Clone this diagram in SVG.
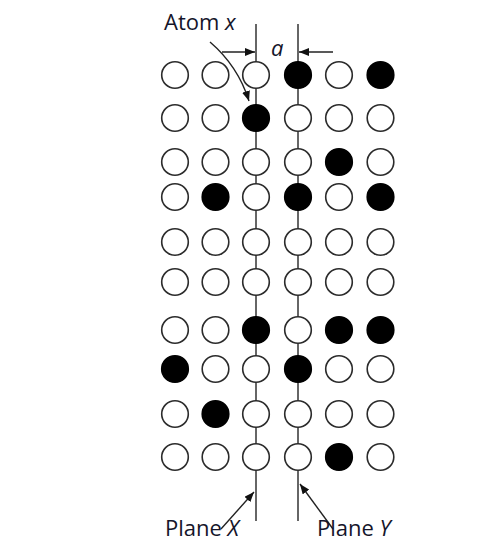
<svg xmlns="http://www.w3.org/2000/svg" width="481" height="543" viewBox="0 0 481 543">
<style>
.o{fill:#fff;stroke:#2b2b2b;stroke-width:1.6}
.b{fill:#000;stroke:#000;stroke-width:1.6}
.ln{stroke:#333;stroke-width:1.5;fill:none}
.ar{stroke:#222;stroke-width:1.4;fill:none;marker-end:url(#ah)}
.t{font-family:"Open Sans","Liberation Sans",sans-serif;font-size:22px;fill:#15152a}
</style>
<defs>
<marker id="ah" viewBox="0 0 10 8" refX="10" refY="4" markerWidth="10" markerHeight="8" markerUnits="userSpaceOnUse" orient="auto">
<path d="M0,0 L10,4 L0,8 z" fill="#111"/>
</marker>
</defs>
<rect width="481" height="543" fill="#fff"/>
<g id="connectors">
<line class="ln" x1="256" y1="24" x2="256" y2="521"/>
<line class="ln" x1="298" y1="24" x2="298" y2="521"/>
<line class="ar" x1="222" y1="52" x2="255" y2="52"/>
<line class="ar" x1="333" y1="52" x2="299" y2="52"/>
<path class="ar" d="M210,42 Q238,66 249,101"/>
<line class="ar" x1="221" y1="529" x2="254" y2="492"/>
<line class="ar" x1="333" y1="529" x2="300" y2="484"/>
</g>
<g id="atoms">
<g id="row1"><circle class="o" cx="175" cy="75" r="13.3"/><circle class="o" cx="215.5" cy="75" r="13.3"/><circle class="o" cx="256" cy="75" r="13.3"/><circle class="b" cx="298" cy="75" r="13.3"/><circle class="o" cx="339" cy="75" r="13.3"/><circle class="b" cx="380.5" cy="75" r="13.3"/></g>
<g id="row2"><circle class="o" cx="175" cy="118" r="13.3"/><circle class="o" cx="215.5" cy="118" r="13.3"/><circle class="b" cx="256" cy="118" r="13.3"/><circle class="o" cx="298" cy="118" r="13.3"/><circle class="o" cx="339" cy="118" r="13.3"/><circle class="o" cx="380.5" cy="118" r="13.3"/></g>
<g id="row3"><circle class="o" cx="175" cy="162" r="13.3"/><circle class="o" cx="215.5" cy="162" r="13.3"/><circle class="o" cx="256" cy="162" r="13.3"/><circle class="o" cx="298" cy="162" r="13.3"/><circle class="b" cx="339" cy="162" r="13.3"/><circle class="o" cx="380.5" cy="162" r="13.3"/></g>
<g id="row4"><circle class="o" cx="175" cy="197" r="13.3"/><circle class="b" cx="215.5" cy="197" r="13.3"/><circle class="o" cx="256" cy="197" r="13.3"/><circle class="b" cx="298" cy="197" r="13.3"/><circle class="o" cx="339" cy="197" r="13.3"/><circle class="b" cx="380.5" cy="197" r="13.3"/></g>
<g id="row5"><circle class="o" cx="175" cy="242" r="13.3"/><circle class="o" cx="215.5" cy="242" r="13.3"/><circle class="o" cx="256" cy="242" r="13.3"/><circle class="o" cx="298" cy="242" r="13.3"/><circle class="o" cx="339" cy="242" r="13.3"/><circle class="o" cx="380.5" cy="242" r="13.3"/></g>
<g id="row6"><circle class="o" cx="175" cy="282" r="13.3"/><circle class="o" cx="215.5" cy="282" r="13.3"/><circle class="o" cx="256" cy="282" r="13.3"/><circle class="o" cx="298" cy="282" r="13.3"/><circle class="o" cx="339" cy="282" r="13.3"/><circle class="o" cx="380.5" cy="282" r="13.3"/></g>
<g id="row7"><circle class="o" cx="175" cy="330" r="13.3"/><circle class="o" cx="215.5" cy="330" r="13.3"/><circle class="b" cx="256" cy="330" r="13.3"/><circle class="o" cx="298" cy="330" r="13.3"/><circle class="b" cx="339" cy="330" r="13.3"/><circle class="b" cx="380.5" cy="330" r="13.3"/></g>
<g id="row8"><circle class="b" cx="175" cy="369" r="13.3"/><circle class="o" cx="215.5" cy="369" r="13.3"/><circle class="o" cx="256" cy="369" r="13.3"/><circle class="b" cx="298" cy="369" r="13.3"/><circle class="o" cx="339" cy="369" r="13.3"/><circle class="o" cx="380.5" cy="369" r="13.3"/></g>
<g id="row9"><circle class="o" cx="175" cy="414" r="13.3"/><circle class="b" cx="215.5" cy="414" r="13.3"/><circle class="o" cx="256" cy="414" r="13.3"/><circle class="o" cx="298" cy="414" r="13.3"/><circle class="o" cx="339" cy="414" r="13.3"/><circle class="o" cx="380.5" cy="414" r="13.3"/></g>
<g id="row10"><circle class="o" cx="175" cy="457" r="13.3"/><circle class="o" cx="215.5" cy="457" r="13.3"/><circle class="o" cx="256" cy="457" r="13.3"/><circle class="o" cx="298" cy="457" r="13.3"/><circle class="b" cx="339" cy="457" r="13.3"/><circle class="o" cx="380.5" cy="457" r="13.3"/></g>
</g>
<g id="label-atom"><text class="t" x="164" y="30">Atom <tspan font-style="italic">x</tspan></text></g>
<g id="label-a"><text class="t" x="271" y="56" font-style="italic">a</text></g>
<g id="label-planeX"><text class="t" x="165" y="536">Plane <tspan font-style="italic">X</tspan></text></g>
<g id="label-planeY"><text class="t" x="317" y="536">Plane <tspan font-style="italic">Y</tspan></text></g>
</svg>
